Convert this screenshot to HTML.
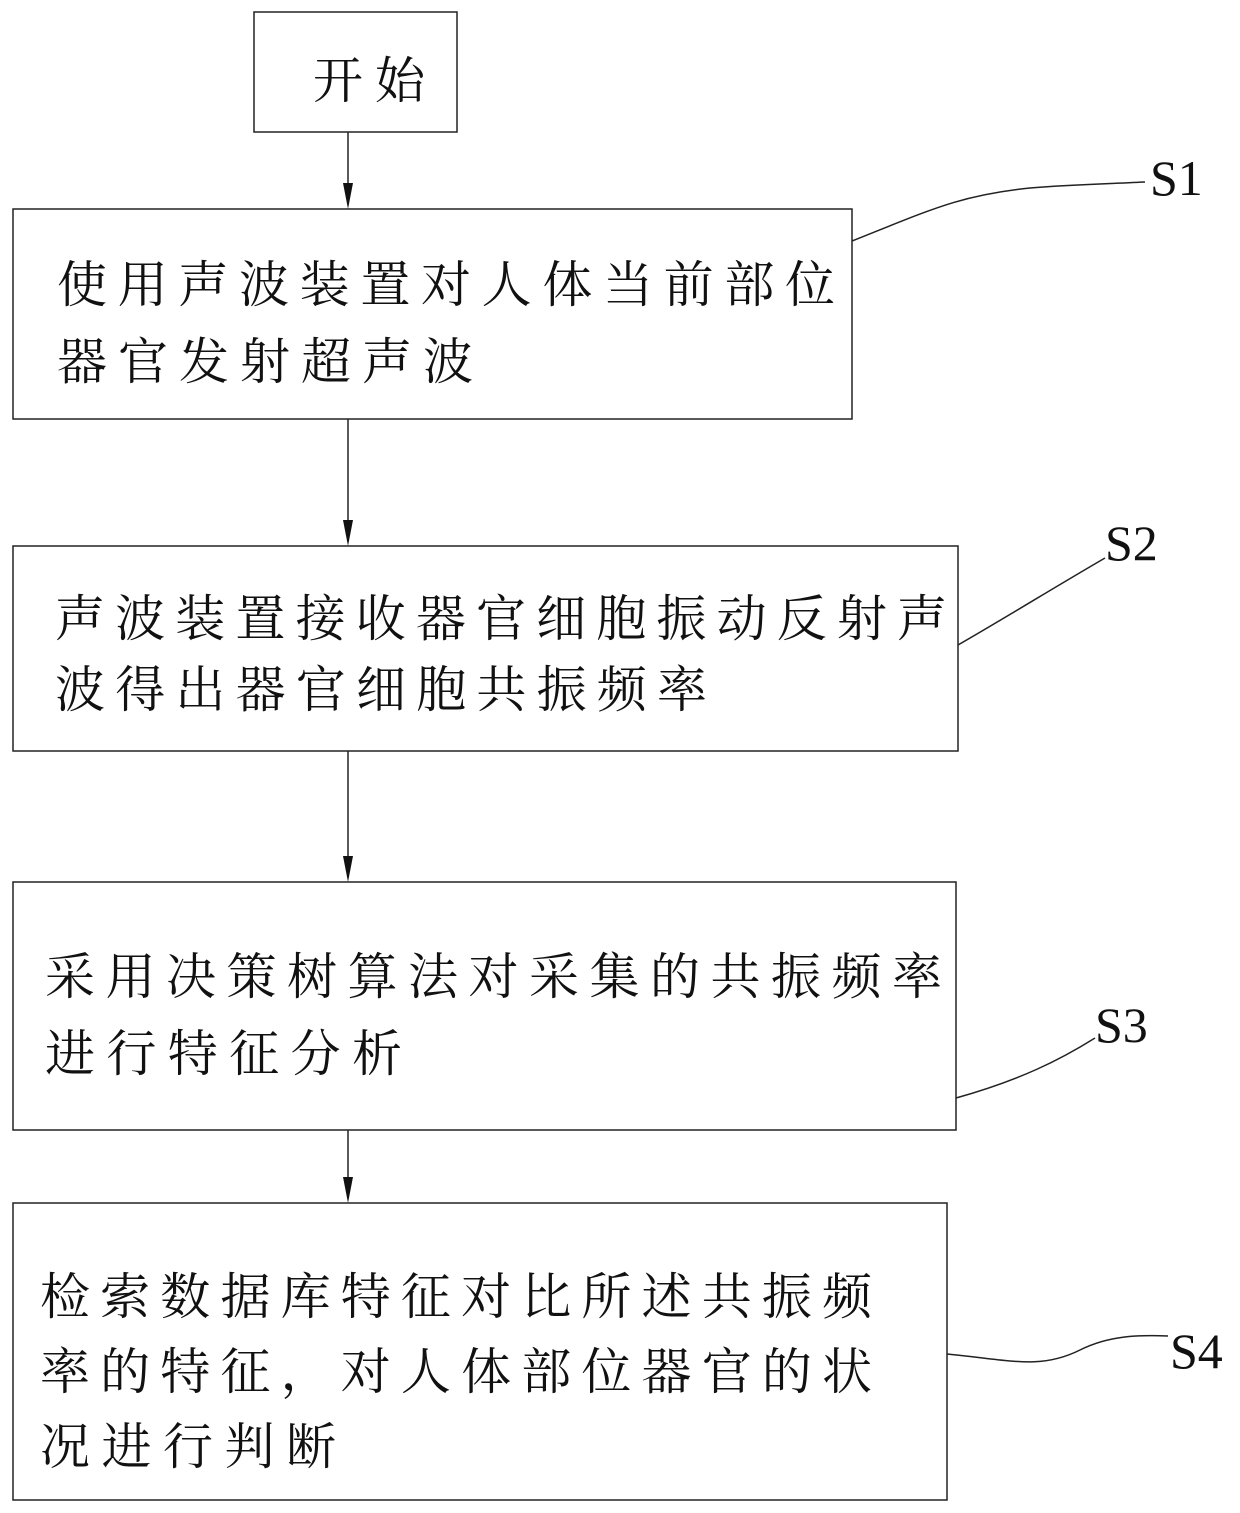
<!DOCTYPE html>
<html><head><meta charset="utf-8"><style>
html,body{margin:0;padding:0;background:#fff;}
svg{display:block;}
.t{font-family:"Liberation Serif","Noto Serif CJK SC","Noto Sans CJK SC",serif;font-size:50px;fill:#111;}
.s{font-family:"Liberation Serif",serif;font-size:50px;fill:#111;}
</style></head><body>
<svg width="1240" height="1513" viewBox="0 0 1240 1513" xmlns="http://www.w3.org/2000/svg">
<g fill="none" stroke="#222" stroke-width="1.5">
<rect x="254" y="12" width="203" height="120"/>
<rect x="13" y="209" width="839" height="210"/>
<rect x="13" y="546" width="945" height="205"/>
<rect x="13" y="882" width="943" height="248"/>
<rect x="13" y="1203" width="934" height="297"/>
<line x1="348" y1="132" x2="348" y2="185"/>
<line x1="348" y1="419" x2="348" y2="522"/>
<line x1="348" y1="751" x2="348" y2="858"/>
<line x1="348" y1="1130" x2="348" y2="1180"/>
<path d="M852,241 C930,210 960,195 1030,188 C1080,184 1110,184 1145,182"/>
<path d="M958,645 C1010,615 1050,590 1105,558"/>
<path d="M956,1098 C1020,1080 1060,1060 1095,1038"/>
<path d="M947,1354 C1010,1360 1040,1370 1080,1350 C1110,1335 1140,1335 1168,1336"/>
</g>
<g fill="#111">
<polygon points="343,183 353,183 348,209"/>
<polygon points="343,520 353,520 348,546"/>
<polygon points="343,856 353,856 348,882"/>
<polygon points="343,1177 353,1177 348,1203"/>
</g>
<text class="t" x="313" y="98" textLength="112" lengthAdjust="spacing">开始</text>
<text class="t" x="57" y="302" textLength="778" lengthAdjust="spacing">使用声波装置对人体当前部位</text>
<text class="t" x="57" y="379" textLength="416" lengthAdjust="spacing">器官发射超声波</text>
<text class="t" x="55" y="636" textLength="892" lengthAdjust="spacing">声波装置接收器官细胞振动反射声</text>
<text class="t" x="55" y="707" textLength="652" lengthAdjust="spacing">波得出器官细胞共振频率</text>
<text class="t" x="45" y="994" textLength="897" lengthAdjust="spacing">采用决策树算法对采集的共振频率</text>
<text class="t" x="45" y="1071" textLength="357" lengthAdjust="spacing">进行特征分析</text>
<text class="t" x="40" y="1314" textLength="832" lengthAdjust="spacing">检索数据库特征对比所述共振频</text>
<text class="t" x="40" y="1389" textLength="832" lengthAdjust="spacing">率的特征，对人体部位器官的状</text>
<text class="t" x="40" y="1464" textLength="296" lengthAdjust="spacing">况进行判断</text>
<text class="s" x="1150" y="195">S1</text>
<text class="s" x="1105" y="560">S2</text>
<text class="s" x="1095" y="1042">S3</text>
<text class="s" x="1170" y="1368">S4</text>
</svg>
</body></html>
